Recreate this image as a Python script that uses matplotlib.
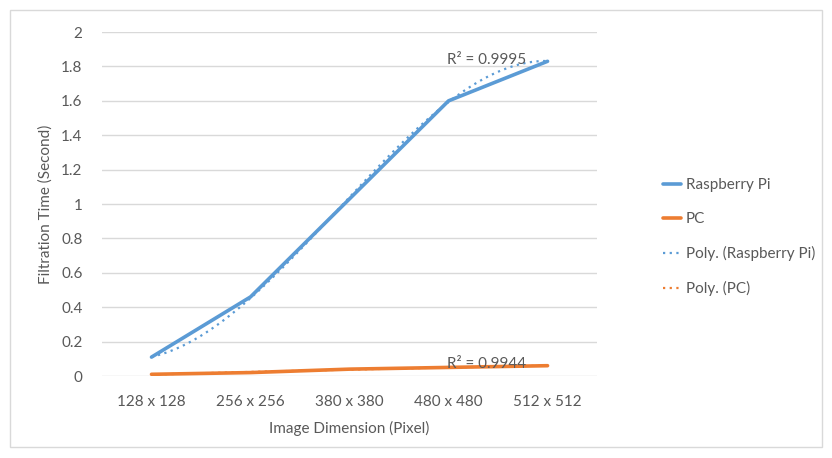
import numpy as np
import matplotlib.pyplot as plt
from matplotlib.patches import Rectangle

# data
categories = ['128 x 128', '256 x 256', '380 x 380', '480 x 480', '512 x 512']
raspberry_pi = [0.11, 0.46, 1.03, 1.60, 1.83]
pc = [0.01, 0.02, 0.04, 0.05, 0.06]
r2_labels = ['R² = 0.9995', 'R² = 0.9944']

BLUE = '#5b9bd5'
ORANGE = '#ed7d31'
GRAY = '#595959'

plt.rcParams['font.family'] = ['Lato', 'DejaVu Sans']

fig = plt.figure(figsize=(8.32, 4.58), dpi=100)
ax = fig.add_axes([0.1226, 0.179, 0.595, 0.751])

x = np.arange(1, len(categories) + 1)
xs = np.linspace(1, len(categories), 200)

ax.plot(x, raspberry_pi, color=BLUE, lw=2.6, label='Raspberry Pi', solid_capstyle='round')
ax.plot(x, pc, color=ORANGE, lw=2.6, label='PC', solid_capstyle='round')

# polynomial trendlines (Excel style, x = 1..n)
fit_rpi = np.polyval(np.polyfit(x, raspberry_pi, 3), xs)
fit_pc = np.polyval(np.polyfit(x, pc, 2), xs)
ax.plot(xs, fit_rpi, color=BLUE, lw=1.6, ls=(0, (1, 2)), label='Poly. (Raspberry Pi)')
ax.plot(xs, fit_pc, color=ORANGE, lw=1.6, ls=(0, (1, 2)), label='Poly. (PC)')

ax.text(4.38, 1.835, r2_labels[0], fontsize=11, color=GRAY, va='center', ha='center')
ax.text(4.38, 0.07, r2_labels[1], fontsize=11, color=GRAY, va='center', ha='center')

ax.set_xlim(0.5, len(categories) + 0.5)
ax.set_ylim(0, 2)
ax.set_xticks(x)
ax.set_xticklabels(categories)
ax.set_yticks(np.arange(0, 2.01, 0.2))
ax.set_yticklabels(['0', '0.2', '0.4', '0.6', '0.8', '1', '1.2', '1.4', '1.6', '1.8', '2'])
ax.tick_params(axis='x', length=0, labelsize=11, labelcolor=GRAY, pad=14)
ax.tick_params(axis='y', length=0, labelsize=11, labelcolor=GRAY, pad=14)
ax.grid(axis='y', color='#d9d9d9', lw=1)
ax.set_axisbelow(True)
for s in ax.spines.values():
    s.set_visible(False)

ax.set_xlabel('Image Dimension (Pixel)', fontsize=11, color=GRAY, labelpad=8)
ax.set_ylabel('Filtration Time (Second)', fontsize=11, color=GRAY, labelpad=6)

ax.legend(loc='center left', bbox_to_anchor=(1.105, 0.404), frameon=False,
          fontsize=11, labelcolor=GRAY, handlelength=1.2, handletextpad=0.3,
          labelspacing=1.3)

fig.patches.append(Rectangle((10 / 832, 11 / 458), 812 / 832, 437 / 458,
                             transform=fig.transFigure, fill=False,
                             edgecolor='#d9d9d9', lw=1))

fig.savefig('out.png', dpi=100)
